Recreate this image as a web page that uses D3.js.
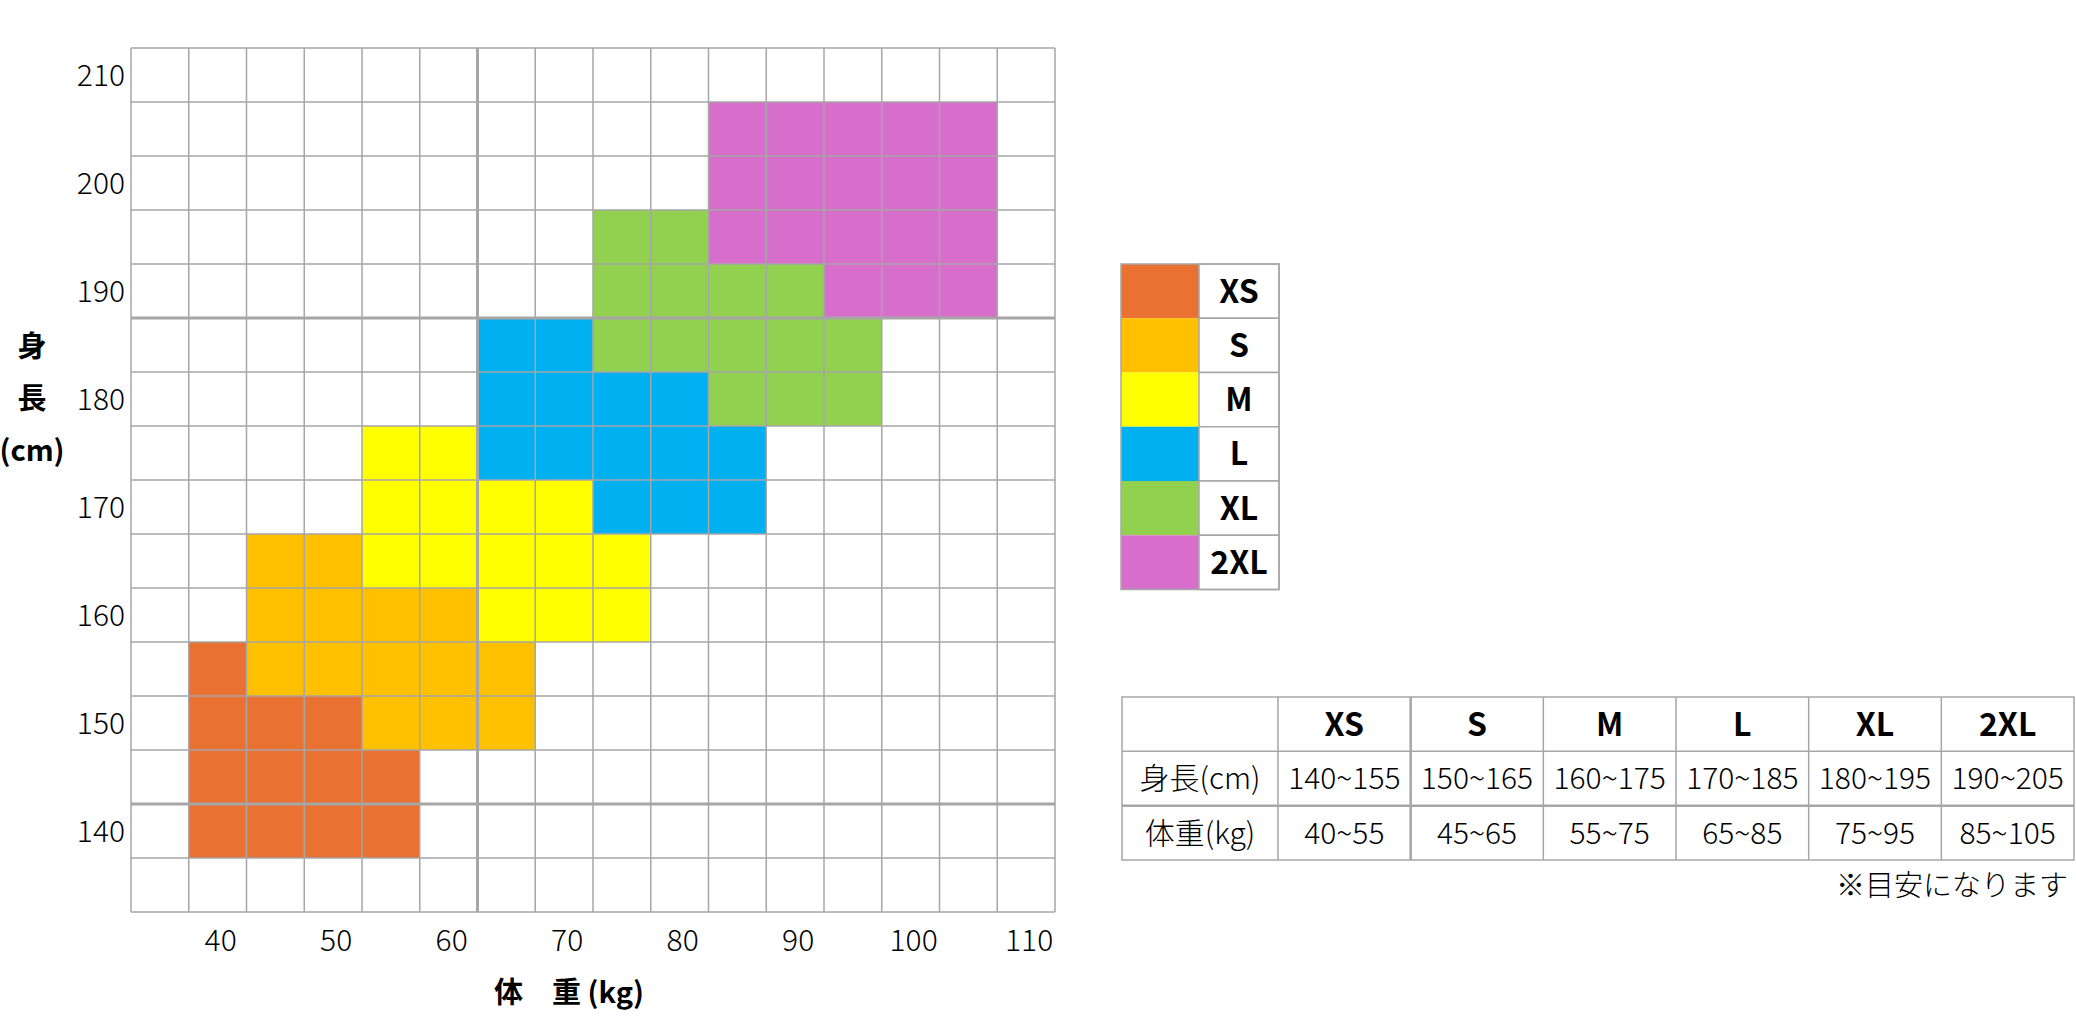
<!DOCTYPE html>
<html>
<head>
<meta charset="utf-8">
<script src="https://cdn.jsdelivr.net/npm/d3@7"></script>
<style>
  body { margin: 0; background: #fff; }
  svg { display: block; }
</style>
</head>
<body>
<script>
// Chart data
const sizes = ["XS", "S", "M", "L", "XL", "2XL"];
const sizeColors = ["#E97132", "#FFC000", "#FFFF00", "#00B0F0", "#92D050", "#D86ECC"];

const weights = [35, 40, 45, 50, 55, 60, 65, 70, 75, 80, 85, 90, 95, 100, 105, 110];
const heights = [210, 205, 200, 195, 190, 185, 180, 175, 170, 165, 160, 155, 150, 145, 140, 135];
const xTicks = [40, 50, 60, 70, 80, 90, 100, 110];
const yTicks = [210, 200, 190, 180, 170, 160, 150, 140];

// filled strips for each size: [height, weight from, weight to]
const xsCells  = [[140, 40, 55], [145, 40, 55], [150, 40, 50], [155, 40, 40]];
const sCells   = [[150, 55, 65], [155, 45, 65], [160, 45, 60], [165, 45, 50]];
const mCells   = [[160, 65, 75], [165, 55, 75], [170, 55, 70], [175, 55, 60]];
const lCells   = [[170, 75, 85], [175, 65, 85], [180, 65, 80], [185, 65, 70]];
const xlCells  = [[180, 85, 95], [185, 75, 95], [190, 75, 90], [195, 75, 80]];
const xxlCells = [[190, 95, 105], [195, 85, 105], [200, 85, 105], [205, 85, 105]];

const heightRanges = ["140~155", "150~165", "160~175", "170~185", "180~195", "190~205"];
const weightRanges = ["40~55", "45~65", "55~75", "65~85", "75~95", "85~105"];
const rowLabels = ["身長(cm)", "体重(kg)"];

// heavier grid lines seen in the picture (band edges)
const thickX = [65];
const thickY = [185, 140];

const W = 2076, H = 1024;
const jp = "'Noto Sans CJK JP', 'Noto Sans', sans-serif";
const lineColor = "#A6A6A6";
const textColor = "#000";

const svg = d3.select("body").append("svg")
    .attr("width", W)
    .attr("height", H);

svg.append("rect").attr("width", W).attr("height", H).attr("fill", "#fff");

// Scales
const x = d3.scaleBand().domain(weights).range([131, 1055]);
const y = d3.scaleBand().domain(heights).range([48, 912]);
const color = d3.scaleOrdinal().domain(sizes).range(sizeColors);

const allCells = [xsCells, sCells, mCells, lCells, xlCells, xxlCells];
const strips = [];
allCells.forEach(function(list, i) {
    list.forEach(function(c) {
        strips.push({size: sizes[i], h: c[0], w0: c[1], w1: c[2]});
    });
});

// Colored cells
svg.append("g").selectAll("rect")
    .data(strips)
    .enter().append("rect")
    .attr("x", d => x(d.w0))
    .attr("y", d => y(d.h))
    .attr("width", d => x(d.w1) + x.bandwidth() - x(d.w0))
    .attr("height", y.bandwidth())
    .attr("fill", d => color(d.size));

// Grid lines
const grid = svg.append("g").attr("stroke", lineColor).attr("fill", "none");
const xEdges = weights.map(w => x(w)).concat([x.range()[1]]);
const yEdges = heights.map(h => y(h)).concat([y.range()[1]]);

grid.selectAll(".vl")
    .data(xEdges)
    .enter().append("line")
    .attr("x1", d => d).attr("x2", d => d)
    .attr("y1", y.range()[0]).attr("y2", y.range()[1])
    .attr("stroke-width", 1.5);

grid.selectAll(".hl")
    .data(yEdges)
    .enter().append("line")
    .attr("y1", d => d).attr("y2", d => d)
    .attr("x1", x.range()[0]).attr("x2", x.range()[1])
    .attr("stroke-width", 1.5);

grid.selectAll(".tx")
    .data(thickX)
    .enter().append("line")
    .attr("x1", d => x(d)).attr("x2", d => x(d))
    .attr("y1", y.range()[0]).attr("y2", y.range()[1])
    .attr("stroke-width", 3);

grid.selectAll(".ty")
    .data(thickY)
    .enter().append("line")
    .attr("y1", d => y(d)).attr("y2", d => y(d))
    .attr("x1", x.range()[0]).attr("x2", x.range()[1])
    .attr("stroke-width", 3);

// Axes
const xaxis = d3.axisBottom(x).tickValues(xTicks).tickSize(0).tickPadding(0);
const yaxis = d3.axisLeft(y).tickValues(yTicks).tickSize(0).tickPadding(6);

const gx = svg.append("g")
    .attr("transform", "translate(0,940)")
    .call(xaxis);
gx.select(".domain").remove();
gx.selectAll("text")
    .attr("y", 0).attr("dy", "0.36em").attr("dx", 3)
    .style("font-family", jp).style("font-size", "30px").style("font-weight", 300)
    .style("fill", textColor);

const gy = svg.append("g")
    .attr("transform", "translate(" + x.range()[0] + ",0)")
    .call(yaxis);
gy.select(".domain").remove();
gy.selectAll("text")
    .attr("dy", "0.36em")
    .style("font-family", jp).style("font-size", "30px").style("font-weight", 300)
    .style("fill", textColor);

// Axis titles
svg.append("text")
    .attr("x", 569).attr("y", 993).attr("dy", "0.36em")
    .attr("text-anchor", "middle")
    .style("font-family", jp).style("font-size", "29px").style("font-weight", "bold")
    .text("体　重 (kg)");

svg.append("g").selectAll("text")
    .data(["身", "長", "(cm)"])
    .enter().append("text")
    .attr("x", 32)
    .attr("y", (d, i) => 347 + i * 52)
    .attr("dy", "0.36em")
    .attr("text-anchor", "middle")
    .style("font-family", jp).style("font-size", "29px").style("font-weight", "bold")
    .text(d => d);

// Legend
const ly = d3.scaleBand().domain(sizes).range([264, 589.5]);
const legend = svg.append("g");
legend.selectAll(".sw")
    .data(sizes)
    .enter().append("rect")
    .attr("x", 1121).attr("y", d => ly(d))
    .attr("width", 78).attr("height", ly.bandwidth())
    .attr("fill", d => color(d));
legend.selectAll(".lb")
    .data(sizes)
    .enter().append("rect")
    .attr("x", 1199).attr("y", d => ly(d))
    .attr("width", 80).attr("height", ly.bandwidth())
    .attr("fill", "#fff").attr("stroke", lineColor).attr("stroke-width", 1.5);
legend.append("rect")
    .attr("x", 1121).attr("y", ly.range()[0])
    .attr("width", 158).attr("height", ly.range()[1] - ly.range()[0])
    .attr("fill", "none").attr("stroke", lineColor).attr("stroke-width", 1.5);
legend.selectAll("text")
    .data(sizes)
    .enter().append("text")
    .attr("x", 1239).attr("y", d => ly(d) + ly.bandwidth() / 2)
    .attr("dy", "0.36em")
    .attr("text-anchor", "middle")
    .style("font-family", jp).style("font-size", "32px").style("font-weight", "bold")
    .text(d => d);

// Table
const tx = d3.scaleBand().domain(sizes).range([1278, 2074]);
const trows = ["head", "height", "weight"];
const ty = d3.scaleBand().domain(trows).range([697, 860]);
const table = svg.append("g");

table.append("rect")
    .attr("x", 1122).attr("y", ty.range()[0])
    .attr("width", 2074 - 1122).attr("height", ty.range()[1] - ty.range()[0])
    .attr("fill", "none").attr("stroke", lineColor).attr("stroke-width", 1.5);

const colEdges = [1278].concat(sizes.slice(1).map(s => tx(s)));
table.selectAll(".cv")
    .data(colEdges)
    .enter().append("line")
    .attr("x1", d => d).attr("x2", d => d)
    .attr("y1", ty.range()[0]).attr("y2", ty.range()[1])
    .attr("stroke", lineColor)
    .attr("stroke-width", (d, i) => i === 1 ? 2.5 : 1.5);

table.selectAll(".rh")
    .data(trows.slice(1))
    .enter().append("line")
    .attr("y1", d => ty(d)).attr("y2", d => ty(d))
    .attr("x1", 1122).attr("x2", 2074)
    .attr("stroke", lineColor)
    .attr("stroke-width", (d, i) => i === 1 ? 2.5 : 1.5);

table.selectAll(".th")
    .data(sizes)
    .enter().append("text")
    .attr("x", d => tx(d) + tx.bandwidth() / 2)
    .attr("y", ty("head") + ty.bandwidth() / 2)
    .attr("dy", "0.36em").attr("text-anchor", "middle")
    .style("font-family", jp).style("font-size", "32px").style("font-weight", "bold")
    .text(d => d);

table.selectAll(".rl")
    .data(rowLabels)
    .enter().append("text")
    .attr("x", 1200)
    .attr("y", (d, i) => ty(trows[i + 1]) + ty.bandwidth() / 2)
    .attr("dy", "0.36em").attr("text-anchor", "middle")
    .style("font-family", jp).style("font-size", "30px").style("font-weight", 300)
    .style("fill", textColor)
    .text(d => d);

[heightRanges, weightRanges].forEach(function(vals, r) {
    table.selectAll(".v" + r)
        .data(vals)
        .enter().append("text")
        .attr("x", (d, i) => tx(sizes[i]) + tx.bandwidth() / 2)
        .attr("y", ty(trows[r + 1]) + ty.bandwidth() / 2)
        .attr("dy", "0.36em").attr("text-anchor", "middle")
        .style("font-family", jp).style("font-size", "30px").style("font-weight", 300)
        .style("fill", textColor)
        .text(d => d);
});

svg.append("text")
    .attr("x", 2068).attr("y", 886).attr("dy", "0.36em")
    .attr("text-anchor", "end")
    .style("font-family", jp).style("font-size", "29px").style("font-weight", 300)
    .style("fill", textColor)
    .text("※目安になります");
</script>
</body>
</html>
